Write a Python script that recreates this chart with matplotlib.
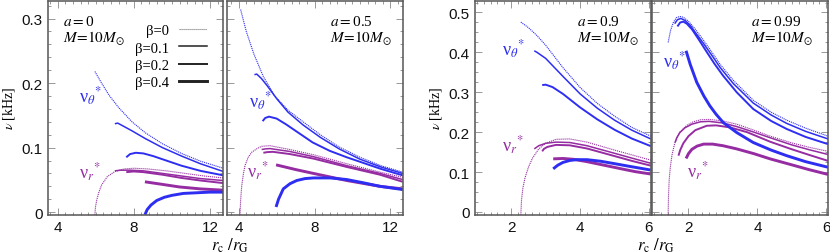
"""
Epicyclic frequencies nu_theta*, nu_r* vs r_c/r_G for four spins (a = 0, 0.5, 0.9, 0.99),
M = 10 Msun, beta = 0, 0.1, 0.2, 0.4. Values read off the reference figure.
"""

import matplotlib
matplotlib.use("Agg")  # headless
import matplotlib.pyplot as plt
from matplotlib.lines import Line2D
from matplotlib.ticker import MultipleLocator, FuncFormatter

plt.rcParams["font.family"] = ["Liberation Sans", "DejaVu Sans"]
plt.rcParams["mathtext.fontset"] = "stix"

BLUE = "#2e2ef2"
PURPLE = "#962ca2"
FRAME = "#555555"

BETAS = [0, 0.1, 0.2, 0.4]
BETA_LABELS = ["β=0", "β=0.1", "β=0.2", "β=0.4"]

# ── a = 0 ─────────────────────────────────────────────────────────────────────
A0_TH_B0_R = [5.95, 6.3, 6.7, 7.2, 7.9, 8.6, 9.5, 10.5, 11.5, 12.7]
A0_TH_B0_NU = [0.218, 0.200, 0.181, 0.162, 0.140, 0.123, 0.106, 0.091, 0.079, 0.068]
A0_TH_B1_R = [7.0, 7.15, 7.4, 7.9, 8.6, 9.5, 10.5, 11.5, 12.7]
A0_TH_B1_NU = [0.137, 0.138, 0.134, 0.126, 0.114, 0.100, 0.087, 0.075, 0.063]
A0_TH_B2_R = [7.6, 7.8, 8.1, 8.5, 9.0, 9.7, 10.5, 11.5, 12.7]
A0_TH_B2_NU = [0.085, 0.090, 0.092, 0.091, 0.087, 0.080, 0.072, 0.064, 0.057]
A0_TH_B4_R = [8.58, 8.7, 8.9, 9.2, 9.6, 10.0, 10.6, 11.3, 12.0, 12.7]
A0_TH_B4_NU = [-0.004, 0.004, 0.011, 0.018, 0.023, 0.026, 0.029, 0.030, 0.031, 0.031]

A0_R_B0_R = [5.95, 5.98, 6.05, 6.15, 6.3, 6.6, 7.0, 7.5, 8.0, 8.7, 9.7, 10.7, 11.7, 12.7]
A0_R_B0_NU = [-0.004, 0.008, 0.019, 0.030, 0.042, 0.055, 0.063, 0.067, 0.068, 0.067, 0.064, 0.060, 0.056, 0.053]
A0_R_B1_R = [7.0, 7.3, 7.8, 8.5, 9.5, 10.5, 11.5, 12.7]
A0_R_B1_NU = [0.064, 0.065, 0.065, 0.064, 0.060, 0.056, 0.052, 0.049]
A0_R_B2_R = [7.6, 8.0, 8.5, 9.5, 10.5, 11.5, 12.7]
A0_R_B2_NU = [0.062, 0.063, 0.062, 0.058, 0.053, 0.049, 0.045]
A0_R_B4_R = [8.58, 9.5, 10.4, 11.5, 12.7]
A0_R_B4_NU = [0.047, 0.043, 0.039, 0.036, 0.034]

# ── a = 0.5 ───────────────────────────────────────────────────────────────────
A05_TH_B0_R = [4.1, 4.4, 4.8, 5.3, 5.9, 6.6, 7.4, 8.3, 9.3, 10.4, 11.5, 12.65]
A05_TH_B0_NU = [0.314, 0.280, 0.245, 0.210, 0.180, 0.158, 0.140, 0.120, 0.101, 0.085, 0.072, 0.062]
A05_TH_B1_R = [4.83, 4.95, 5.2, 5.5, 6.0, 6.6, 7.4, 8.3, 9.3, 10.4, 11.5, 12.65]
A05_TH_B1_NU = [0.213, 0.214, 0.207, 0.196, 0.176, 0.155, 0.135, 0.116, 0.098, 0.082, 0.070, 0.060]
A05_TH_B2_R = [5.26, 5.4, 5.6, 6.0, 6.5, 7.0, 7.9, 8.8, 9.7, 10.6, 11.5, 12.65]
A05_TH_B2_NU = [0.141, 0.146, 0.148, 0.145, 0.136, 0.126, 0.108, 0.095, 0.085, 0.076, 0.067, 0.057]
A05_TH_B4_R = [5.97, 6.1, 6.35, 6.7, 7.06, 7.5, 7.94, 8.82, 9.7, 10.57, 11.45, 12.65]
A05_TH_B4_NU = [0.008, 0.020, 0.036, 0.044, 0.049, 0.052, 0.053, 0.053, 0.0505, 0.0455, 0.040, 0.035]

A05_R_B0_R = [4.07, 4.1, 4.16, 4.25, 4.33, 4.5, 4.69, 5.0, 5.21, 5.65, 6.71, 7.94, 9.7, 11.45, 12.65]
A05_R_B0_NU = [-0.004, 0.018, 0.041, 0.060, 0.072, 0.085, 0.093, 0.099, 0.102, 0.103, 0.097, 0.089, 0.075, 0.062, 0.054]
A05_R_B1_R = [5.21, 5.4, 5.65, 6.7, 7.94, 9.7, 11.45, 12.65]
A05_R_B1_NU = [0.097, 0.098, 0.0985, 0.094, 0.086, 0.072, 0.060, 0.0505]
A05_R_B2_R = [5.3, 5.5, 5.8, 6.7, 7.94, 9.7, 11.45, 12.65]
A05_R_B2_NU = [0.092, 0.093, 0.0935, 0.090, 0.083, 0.070, 0.058, 0.047]
A05_R_B4_R = [5.97, 7.0, 7.94, 9.7, 11.45, 12.65]
A05_R_B4_NU = [0.0733, 0.066, 0.060, 0.049, 0.040, 0.036]

# ── a = 0.9 ───────────────────────────────────────────────────────────────────
A09_TH_B0_R = [2.28, 2.5, 2.75, 3.0, 3.5, 4.0, 4.5, 5.0, 5.5, 6.05]
A09_TH_B0_NU = [0.476, 0.462, 0.442, 0.418, 0.362, 0.312, 0.272, 0.240, 0.212, 0.190]
A09_TH_B1_R = [2.67, 2.75, 3.0, 3.5, 4.0, 4.5, 5.0, 5.5, 6.05]
A09_TH_B1_NU = [0.404, 0.400, 0.385, 0.340, 0.296, 0.260, 0.230, 0.205, 0.183]
A09_TH_B2_R = [2.90, 3.0, 3.2, 3.5, 4.0, 4.5, 5.0, 5.5, 6.05]
A09_TH_B2_NU = [0.318, 0.319, 0.313, 0.296, 0.262, 0.232, 0.206, 0.184, 0.165]
A09_TH_B4_R = [3.22, 3.35, 3.5, 3.7, 3.9, 4.2, 4.6, 5.0, 5.45, 6.05]
A09_TH_B4_NU = [0.108, 0.117, 0.124, 0.129, 0.131, 0.131, 0.127, 0.121, 0.114, 0.105]

A09_R_B0_R = [2.28, 2.30, 2.34, 2.40, 2.50, 2.62, 2.8, 3.0, 3.3, 3.7, 4.2, 5.0, 5.5, 6.05]
A09_R_B0_NU = [-0.007, 0.030, 0.060, 0.085, 0.112, 0.135, 0.158, 0.172, 0.182, 0.183, 0.175, 0.155, 0.143, 0.130]
A09_R_B1_R = [2.67, 2.8, 3.0, 3.3, 3.7, 4.2, 5.0, 5.5, 6.05]
A09_R_B1_NU = [0.158, 0.166, 0.172, 0.175, 0.174, 0.166, 0.147, 0.135, 0.122]
A09_R_B2_R = [2.90, 2.95, 3.05, 3.3, 3.7, 4.2, 5.0, 5.5, 6.05]
A09_R_B2_NU = [0.152, 0.158, 0.163, 0.168, 0.167, 0.159, 0.140, 0.128, 0.116]
A09_R_B4_R = [3.22, 3.5, 3.8, 4.2, 4.7, 5.2, 5.6, 6.05]
A09_R_B4_NU = [0.133, 0.134, 0.132, 0.126, 0.117, 0.108, 0.101, 0.095]

# ── a = 0.99 ──────────────────────────────────────────────────────────────────
A099_TH_B0_R = [1.41, 1.48, 1.56, 1.65, 1.75, 1.85, 2.0, 2.2, 2.44, 2.7, 2.92, 3.3, 3.88, 4.4, 4.85, 5.4, 6.05]
A099_TH_B0_NU = [0.425, 0.455, 0.475, 0.487, 0.490, 0.488, 0.478, 0.458, 0.430, 0.398, 0.370, 0.330, 0.280, 0.250, 0.230, 0.210, 0.190]
A099_TH_B1_R = [1.6, 1.68, 1.78, 1.9, 2.05, 2.2, 2.44, 2.7, 2.92, 3.3, 3.88, 4.4, 4.85, 5.4, 6.05]
A099_TH_B1_NU = [0.472, 0.482, 0.485, 0.480, 0.468, 0.450, 0.422, 0.390, 0.362, 0.322, 0.273, 0.243, 0.222, 0.202, 0.183]
A099_TH_B2_R = [1.68, 1.76, 1.85, 1.95, 2.1, 2.3, 2.5, 2.75, 3.0, 3.4, 3.88, 4.4, 4.85, 5.4, 6.05]
A099_TH_B2_NU = [0.465, 0.475, 0.477, 0.472, 0.458, 0.432, 0.405, 0.372, 0.342, 0.300, 0.258, 0.228, 0.208, 0.188, 0.170]
A099_TH_B4_R = [1.93, 2.05, 2.24, 2.45, 2.62, 2.8, 3.01, 3.4, 3.88, 4.4, 4.85, 5.4, 6.05]
A099_TH_B4_NU = [0.404, 0.370, 0.325, 0.290, 0.266, 0.245, 0.224, 0.199, 0.174, 0.155, 0.141, 0.126, 0.112]

A099_R_B0_R = [1.41, 1.42, 1.44, 1.47, 1.52, 1.6, 1.75, 1.95, 2.14, 2.35, 2.6, 3.0, 3.4, 3.9, 4.37, 5.0, 5.5, 6.05]
A099_R_B0_NU = [-0.007, 0.040, 0.080, 0.110, 0.142, 0.172, 0.200, 0.217, 0.226, 0.231, 0.232, 0.228, 0.220, 0.205, 0.190, 0.173, 0.162, 0.152]
A099_R_B1_R = [1.61, 1.66, 1.75, 1.9, 2.1, 2.35, 2.6, 3.0, 3.4, 3.9, 4.37, 5.0, 5.5, 6.05]
A099_R_B1_NU = [0.174, 0.186, 0.199, 0.211, 0.220, 0.226, 0.227, 0.223, 0.214, 0.200, 0.186, 0.168, 0.156, 0.144]
A099_R_B2_R = [1.71, 1.76, 1.85, 2.0, 2.2, 2.53, 2.8, 3.2, 3.7, 4.37, 5.0, 5.5, 6.05]
A099_R_B2_NU = [0.141, 0.155, 0.172, 0.190, 0.205, 0.216, 0.217, 0.212, 0.200, 0.176, 0.157, 0.143, 0.128]
A099_R_B4_R = [1.93, 2.0, 2.1, 2.25, 2.44, 2.7, 3.0, 3.4, 3.9, 4.37, 5.0, 5.5, 6.05]
A099_R_B4_NU = [0.134, 0.146, 0.157, 0.165, 0.170, 0.170, 0.166, 0.158, 0.146, 0.133, 0.118, 0.106, 0.094]


# ── Panel setup ───────────────────────────────────────────────────────────────

STYLE = {
    0: dict(ls=(0, (1, 0.8)), lw=0.8),
    0.1: dict(ls="-", lw=1.1),
    0.2: dict(ls="-", lw=1.4),
    0.4: dict(ls="-", lw=2.1),
}

PANELS = [
    dict(spin="0", xlim=(3.5, 12.7), ylim=(-0.004, 0.328), xticks=[4, 8, 12], xminor=0.4,
         yticks=[0, 0.1, 0.2, 0.3], yminor=0.02, ylabels=True, text_x=0.085,
         th_lbl=(0.175, 0.555), r_lbl=(0.175, 0.20),
         theta=[(A0_TH_B0_R, A0_TH_B0_NU), (A0_TH_B1_R, A0_TH_B1_NU),
                (A0_TH_B2_R, A0_TH_B2_NU), (A0_TH_B4_R, A0_TH_B4_NU)],
         radial=[(A0_R_B0_R, A0_R_B0_NU), (A0_R_B1_R, A0_R_B1_NU),
                 (A0_R_B2_R, A0_R_B2_NU), (A0_R_B4_R, A0_R_B4_NU)]),
    dict(spin="0.5", xlim=(3.4, 12.65), ylim=(-0.004, 0.328), xticks=[4, 8, 12], xminor=0.4,
         yticks=[0, 0.1, 0.2, 0.3], yminor=0.02, ylabels=False, text_x=0.585,
         th_lbl=(0.125, 0.53), r_lbl=(0.11, 0.205),
         theta=[(A05_TH_B0_R, A05_TH_B0_NU), (A05_TH_B1_R, A05_TH_B1_NU),
                (A05_TH_B2_R, A05_TH_B2_NU), (A05_TH_B4_R, A05_TH_B4_NU)],
         radial=[(A05_R_B0_R, A05_R_B0_NU), (A05_R_B1_R, A05_R_B1_NU),
                 (A05_R_B2_R, A05_R_B2_NU), (A05_R_B4_R, A05_R_B4_NU)]),
    dict(spin="0.9", xlim=(0.95, 6.05), ylim=(-0.007, 0.53), xticks=[2, 4, 6], xminor=0.2,
         yticks=[0, 0.1, 0.2, 0.3, 0.4, 0.5], yminor=0.025, ylabels=True, text_x=0.58,
         th_lbl=(0.155, 0.775), r_lbl=(0.155, 0.325),
         theta=[(A09_TH_B0_R, A09_TH_B0_NU), (A09_TH_B1_R, A09_TH_B1_NU),
                (A09_TH_B2_R, A09_TH_B2_NU), (A09_TH_B4_R, A09_TH_B4_NU)],
         radial=[(A09_R_B0_R, A09_R_B0_NU), (A09_R_B1_R, A09_R_B1_NU),
                 (A09_R_B2_R, A09_R_B2_NU), (A09_R_B4_R, A09_R_B4_NU)]),
    dict(spin="0.99", xlim=(0.95, 6.05), ylim=(-0.007, 0.53), xticks=[2, 4, 6], xminor=0.2,
         yticks=[0, 0.1, 0.2, 0.3, 0.4, 0.5], yminor=0.025, ylabels=False, text_x=0.56,
         th_lbl=(0.06, 0.72), r_lbl=(0.195, 0.205),
         theta=[(A099_TH_B0_R, A099_TH_B0_NU), (A099_TH_B1_R, A099_TH_B1_NU),
                (A099_TH_B2_R, A099_TH_B2_NU), (A099_TH_B4_R, A099_TH_B4_NU)],
         radial=[(A099_R_B0_R, A099_R_B0_NU), (A099_R_B1_R, A099_R_B1_NU),
                 (A099_R_B2_R, A099_R_B2_NU), (A099_R_B4_R, A099_R_B4_NU)]),
]

# axes rectangles in figure fraction (left, bottom, width, height)
RECTS = [
    (0.0582, 0.1474, 0.2108, 0.8466),
    (0.2739, 0.1474, 0.2113, 0.8466),
    (0.5723, 0.1474, 0.2117, 0.8466),
    (0.7859, 0.1474, 0.2117, 0.8466),
]


def fmt_nu(v, _pos):
    return "0" if abs(v) < 1e-9 else f"{v:.1f}"


def draw_panel(ax, p):
    for beta, (r, nu) in zip(BETAS, p["radial"]):
        ax.plot(r, nu, color=PURPLE, solid_capstyle="butt", **STYLE[beta])
    for beta, (r, nu) in zip(BETAS, p["theta"]):
        ax.plot(r, nu, color=BLUE, solid_capstyle="butt", **STYLE[beta])

    ax.set_xlim(*p["xlim"])
    ax.set_ylim(*p["ylim"])
    ax.set_xticks(p["xticks"])
    ax.xaxis.set_minor_locator(MultipleLocator(p["xminor"]))
    ax.set_yticks(p["yticks"])
    ax.yaxis.set_minor_locator(MultipleLocator(p["yminor"]))
    ax.yaxis.set_major_formatter(FuncFormatter(fmt_nu))
    if not p["ylabels"]:
        ax.set_yticklabels([])

    ax.tick_params(which="both", direction="in", top=True, right=True,
                   color="#888888", width=0.6, labelsize=11, labelcolor="#111111")
    ax.tick_params(which="major", length=5, pad=4)
    ax.tick_params(which="minor", length=2.5)
    for sp in ax.spines.values():
        sp.set_color(FRAME)
        sp.set_linewidth(1.1)

    ax.text(p["text_x"], 0.905, rf"$a=${p['spin']}", transform=ax.transAxes,
            fontsize=11, family="Liberation Serif", va="center", ha="left")
    ax.text(p["text_x"], 0.826, r"$M\!=\!10M_{\odot}$", transform=ax.transAxes,
            fontsize=11, va="center", ha="left")
    ax.text(*p["th_lbl"], r"ν$_{\theta}{}^{*}$", transform=ax.transAxes, color=BLUE,
            fontsize=13, family="Liberation Serif", va="center", ha="left")
    ax.text(*p["r_lbl"], r"ν$_{r}{}^{*}$", transform=ax.transAxes, color=PURPLE,
            fontsize=13, family="Liberation Serif", va="center", ha="left")


fig = plt.figure(figsize=(8.3, 2.53), dpi=100)
axes = [fig.add_axes(rect) for rect in RECTS]
for ax, p in zip(axes, PANELS):
    draw_panel(ax, p)

# legend (first panel only)
handles = [Line2D([], [], color="#777777" if b == 0 else "#222222", **STYLE[b]) for b in BETAS]
axes[0].legend(handles, BETA_LABELS, loc="upper right", bbox_to_anchor=(0.905, 0.89),
               markerfirst=False, frameon=False, handlelength=1.9, handletextpad=0.7,
               labelspacing=0.28, borderpad=0, borderaxespad=0,
               prop={"family": "Liberation Serif", "size": 10.5})

axes[0].set_ylabel(r"$\nu$ [kHz]", fontsize=10, family="Liberation Serif")
axes[0].yaxis.set_label_coords(-0.18, 0.5)
axes[2].set_ylabel(r"$\nu$ [kHz]", fontsize=10, family="Liberation Serif")
axes[2].yaxis.set_label_coords(-0.175, 0.5)

fig.text(0.277, 0.03, r"$r_{\rm c}\ /r_{\rm G}$", fontsize=12, ha="center", va="center")
fig.text(0.79, 0.03, r"$r_{\rm c}\ /r_{\rm G}$", fontsize=12, ha="center", va="center")

fig.savefig("out.png", dpi=100)
